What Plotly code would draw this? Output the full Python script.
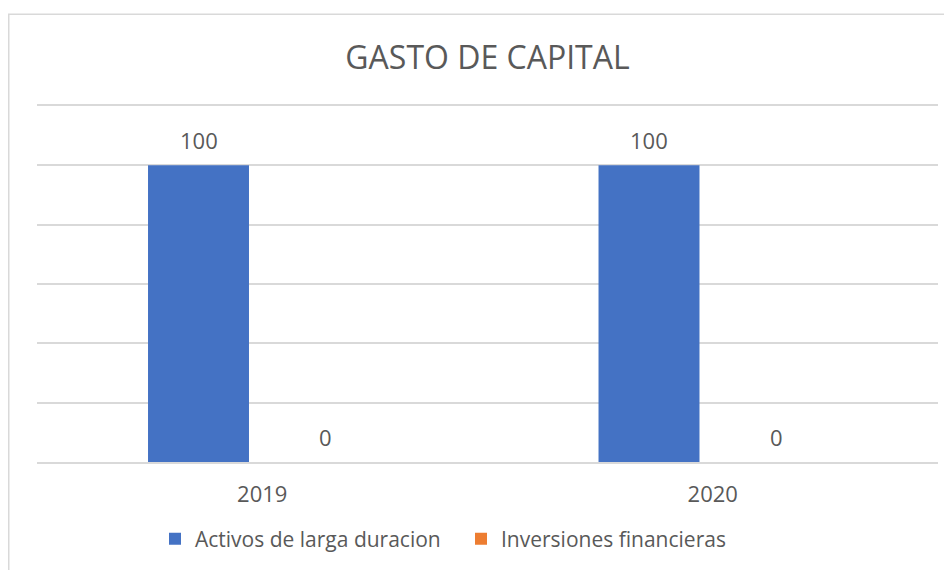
import plotly.graph_objects as go

# Data
years = ["2019", "2020"]
series = [
    ("Activos de larga duracion", [100, 100], "#4472C4"),
    ("Inversiones financieras", [0, 0], "#ED7D31"),
]

font_family = "Open Sans"
text_color = "#595959"
grid_color = "#D9D9D9"

# page has an 8px body margin, so the figure is drawn 8px smaller
W, H = 944, 562
L, R, T, B = 29, 14, 98, 107
plot_w = W - L - R
plot_h = H - T - B

bargap = 0.434
slot = plot_w / len(years) * (1 - bargap) / len(series)

fig = go.Figure()
annotations = []
for i, (name, vals, color) in enumerate(series):
    fig.add_trace(go.Bar(x=years, y=vals, name=name,
                         marker=dict(color=color, line=dict(width=0))))
    # data labels above each bar (category centres in paper units)
    for j, v in enumerate(vals):
        annotations.append(dict(xref="paper", yref="y", x=(j + 0.5) / len(years), y=v,
                                text=str(v), showarrow=False, xanchor="center",
                                xshift=(i - 0.5) * slot, yshift=25, yanchor="middle",
                                font=dict(size=22, color=text_color)))

fig.update_layout(
    width=W, height=H,
    margin=dict(l=L, r=R, t=T, b=B),
    paper_bgcolor="white", plot_bgcolor="white",
    font=dict(family=font_family, color=text_color),
    title=dict(text="GASTO DE CAPITAL", x=0.5, xref="paper", y=1 - 50 / H,
               yanchor="middle", font=dict(size=32, color=text_color)),
    bargap=bargap, bargroupgap=0.208,
    showlegend=True,
    legend=dict(orientation="h", x=(147 - L) / plot_w, xanchor="left",
                y=-(531 - (H - B)) / plot_h, yanchor="middle",
                entrywidth=261, entrywidthmode="pixels",
                font=dict(size=21, color=text_color)),
    annotations=annotations,
    shapes=[dict(type="rect", xref="paper", yref="paper",
                 x0=(0.75 - L) / plot_w, x1=1.2,
                 y0=-0.6, y1=(H - B - 6) / plot_h,
                 line=dict(color=grid_color, width=1.5), layer="below")],
)
fig.update_yaxes(range=[0, 120], dtick=20, showticklabels=False, gridcolor=grid_color,
                 gridwidth=1.5, zeroline=False)
fig.update_xaxes(type="category", range=[-0.5, len(years) - 0.5], showline=True, mirror=True,
                 linecolor=grid_color, linewidth=1.5, ticks="outside", ticklen=12,
                 tickcolor="rgba(0,0,0,0)", tickfont=dict(size=22, color=text_color))

fig.write_html("out.html")
